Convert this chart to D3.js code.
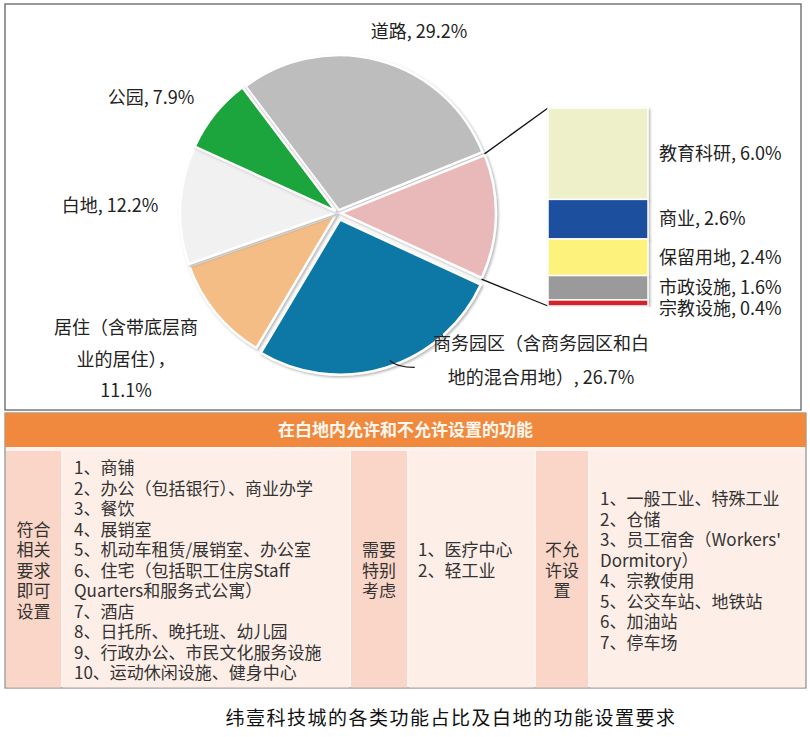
<!DOCTYPE html>
<html>
<head>
<meta charset="utf-8">
<script src="https://cdn.jsdelivr.net/npm/d3@7"></script>
<style>
  body { margin: 0; background: #fff; }
  svg { display: block; font-family: "Noto Sans CJK SC", "Microsoft YaHei", sans-serif; }
</style>
</head>
<body>
<script>
// pie: share of land use (%)
var sliceNames = ["道路", "其他", "商务园区", "居住", "白地", "公园"];
var sliceValues = [29.2, 13.0, 26.7, 11.1, 12.2, 7.9];
var sliceColors = ["#bdbdbd", "#e9b8b8", "#0b78a6", "#f4bd85", "#f1f1f1", "#1ea43c"];
var sliceLabels = [
  ["道路, 29.2%"],
  [],
  ["商务园区（含商务园区和白", "地的混合用地）, 26.7%"],
  ["居住（含带底层商", "业的居住），", "11.1%"],
  ["白地, 12.2%"],
  ["公园, 7.9%"]
];

// breakdown of the "其他" slice
var barNames = ["教育科研", "商业", "保留用地", "市政设施", "宗教设施"];
var barValues = [6.0, 2.6, 2.4, 1.6, 0.4];
var barColors = ["#eef0c9", "#1f4f9e", "#fcf27c", "#9a9a9a", "#d2202c"];

// table
var tableTitle = "在白地内允许和不允许设置的功能";
var groupTitles = [["符合", "相关", "要求", "即可", "设置"], ["需要", "特别", "考虑"], ["不允", "许设", "置"]];
var allowedItems = ["1、商铺", "2、办公（包括银行）、商业办学", "3、餐饮", "4、展销室",
  "5、机动车租赁/展销室、办公室", "6、住宅（包括职工住房Staff", "Quarters和服务式公寓）",
  "7、酒店", "8、日托所、晚托班、幼儿园", "9、行政办公、市民文化服务设施", "10、运动休闲设施、健身中心"];
var specialItems = ["1、医疗中心", "2、轻工业"];
var forbiddenItems = ["1、一般工业、特殊工业", "2、仓储", "3、员工宿舍（Workers'", "Dormitory）",
  "4、宗教使用", "5、公交车站、地铁站", "6、加油站", "7、停车场"];
var caption = "纬壹科技城的各类功能占比及白地的功能设置要求";

var width = 810, height = 737;
var svg = d3.select("body").append("svg")
  .attr("width", width)
  .attr("height", height);

var defs = svg.append("defs");
var sh = defs.append("filter").attr("id", "shadow")
  .attr("x", "-10%").attr("y", "-10%").attr("width", "120%").attr("height", "120%");
sh.append("feDropShadow").attr("dx", 1.5).attr("dy", 1.5).attr("stdDeviation", 1.2)
  .attr("flood-color", "#888").attr("flood-opacity", 0.6);

// frame round the chart
svg.append("rect")
  .attr("x", 5).attr("y", 4).attr("width", 796).attr("height", 406)
  .attr("fill", "#fff").attr("stroke", "#555").attr("stroke-width", 1.2);

// ---- pie ----
var cx = 338, cy = 213, r = 155;
var start = -37 * Math.PI / 180;
var pie = d3.pie().sort(null).value(function(d) { return d; })
  .startAngle(start).endAngle(start + 2 * Math.PI);
var arcs = pie(sliceValues);
var arc = d3.arc().innerRadius(0).outerRadius(r);

var pieG = svg.append("g").attr("transform", "translate(" + cx + "," + cy + ")");
pieG.selectAll("path")
  .data(arcs)
  .enter()
  .append("path")
  .attr("d", arc)
  .attr("fill", function(d, i) { return sliceColors[i]; })
  .attr("stroke", "#fff")
  .attr("stroke-width", 2.5)
  .attr("filter", "url(#shadow)")
  .attr("transform", function(d, i) {
    var a = (d.startAngle + d.endAngle) / 2;
    var off = i === 2 ? 7 : 3;
    return "translate(" + (Math.sin(a) * off) + "," + (-Math.cos(a) * off) + ")";
  });

// label layout (center x, first line y)
var labelLayout = [
  { x: 419, y: 38 }, null, { x: 541, y: 350 }, { x: 126, y: 334 }, { x: 110, y: 212 }, { x: 151, y: 104 }
];
var lineGap = [0, 0, 34, 31.5, 0, 0];
sliceLabels.forEach(function(lines, i) {
  if (!labelLayout[i]) return;
  var t = svg.append("text")
    .attr("text-anchor", "middle")
    .attr("font-size", "18px")
    .attr("fill", "#222");
  lines.forEach(function(s, k) {
    t.append("tspan")
      .attr("x", labelLayout[i].x)
      .attr("y", labelLayout[i].y + k * lineGap[i])
      .text(s);
  });
});

// small leader line from the business park slice
var la = 160 * Math.PI / 180;
var lp = [cx + Math.sin(la) * (r + 5), cy - Math.cos(la) * (r + 5)];
svg.append("path")
  .attr("d", "M" + (lp[0] - 3) + "," + (lp[1] - 3) + " Q" + (lp[0] + 4) + "," + (lp[1] + 4) + " " + (lp[0] + 22) + "," + (lp[1] + 4))
  .attr("fill", "none").attr("stroke", "#111").attr("stroke-width", 1.3);

// ---- stacked bar for "其他" ----
var barX = 548, barW = 100, barTop = 108, barBottom = 306;
var y = d3.scaleLinear().domain([0, d3.sum(barValues)]).range([barTop, barBottom]);
var cum = 0;
var segs = barValues.map(function(v, i) {
  var s = { name: barNames[i], value: v, y0: cum, y1: cum + v, color: barColors[i] };
  cum += v;
  return s;
});

// connector lines from the slice edges to the bar
var other = arcs[1];
var p1 = [cx + Math.sin(other.startAngle) * (r + 3), cy - Math.cos(other.startAngle) * (r + 3)];
var p2 = [cx + Math.sin(other.endAngle) * (r + 3), cy - Math.cos(other.endAngle) * (r + 3)];
svg.append("line").attr("x1", p1[0]).attr("y1", p1[1]).attr("x2", barX).attr("y2", barTop)
  .attr("stroke", "#111").attr("stroke-width", 1.3);
svg.append("line").attr("x1", p2[0]).attr("y1", p2[1]).attr("x2", barX).attr("y2", barBottom)
  .attr("stroke", "#111").attr("stroke-width", 1.3);

svg.append("g").selectAll("rect")
  .data(segs)
  .enter()
  .append("rect")
  .attr("x", barX)
  .attr("width", barW)
  .attr("y", function(d) { return y(d.y0); })
  .attr("height", function(d) { return y(d.y1) - y(d.y0); })
  .attr("fill", function(d) { return d.color; })
  .attr("stroke", "#fff")
  .attr("stroke-width", 1.5)
  .attr("filter", "url(#shadow)");

var prevY = -100;
segs.forEach(function(d) {
  var ly = Math.max((y(d.y0) + y(d.y1)) / 2, prevY + 21);
  prevY = ly;
  svg.append("text")
    .attr("x", barX + barW + 11)
    .attr("y", ly)
    .attr("dy", "0.35em")
    .attr("font-size", "18px")
    .attr("fill", "#222")
    .text(d.name + ", " + d.value.toFixed(1) + "%");
});

// ---- table ----
var tx0 = 5, tx1 = 806, hy0 = 413, hy1 = 447, by1 = 688;
var colX = [tx0, 62, 350, 408, 535, 589, tx1];

svg.append("rect").attr("x", tx0).attr("y", hy0).attr("width", tx1 - tx0).attr("height", by1 - hy0)
  .attr("fill", "#fdf3ee").attr("stroke", "#8a8a8a").attr("stroke-width", 1.2);
svg.append("rect").attr("x", tx0).attr("y", hy0).attr("width", tx1 - tx0).attr("height", hy1 - hy0)
  .attr("fill", "#f0893d");
svg.append("text")
  .attr("x", (tx0 + tx1) / 2).attr("y", (hy0 + hy1) / 2).attr("dy", "0.35em")
  .attr("text-anchor", "middle").attr("font-size", "17px").attr("font-weight", "bold")
  .attr("fill", "#fff7ef").text(tableTitle);

var cellFill = ["#f9d6c8", "#fdeee7", "#f9d6c8", "#fdeee7", "#f9d6c8", "#fdeee7"];
for (var c = 0; c < 6; c++) {
  svg.append("rect")
    .attr("x", colX[c] + 1).attr("y", hy1 + 4)
    .attr("width", colX[c + 1] - colX[c] - 2).attr("height", by1 - hy1 - 4.6)
    .attr("fill", cellFill[c]);
}

var lineH = 20.5, mid = 571;
function block(lines, x, anchor, firstY) {
  var y0 = firstY !== undefined ? firstY : mid - (lines.length - 1) / 2 * lineH;
  svg.append("g").selectAll("text")
    .data(lines)
    .enter()
    .append("text")
    .attr("x", x)
    .attr("y", function(d, i) { return y0 + i * lineH; })
    .attr("dy", "0.35em")
    .attr("text-anchor", anchor)
    .attr("font-size", "17px")
    .attr("fill", "#333")
    .text(function(d) { return d; });
}
block(groupTitles[0], (colX[0] + colX[1]) / 2, "middle");
block(allowedItems, colX[1] + 12, "start");
block(groupTitles[1], (colX[2] + colX[3]) / 2, "middle");
block(specialItems, colX[3] + 10, "start", mid - lineH);
block(groupTitles[2], (colX[4] + colX[5]) / 2, "middle");
block(forbiddenItems, colX[5] + 11, "start");

// caption
svg.append("text")
  .attr("x", 451).attr("y", 718).attr("dy", "0.35em")
  .attr("text-anchor", "middle")
  .attr("font-size", "19px")
  .attr("letter-spacing", "1.5px")
  .attr("fill", "#111")
  .text(caption);
</script>
</body>
</html>
